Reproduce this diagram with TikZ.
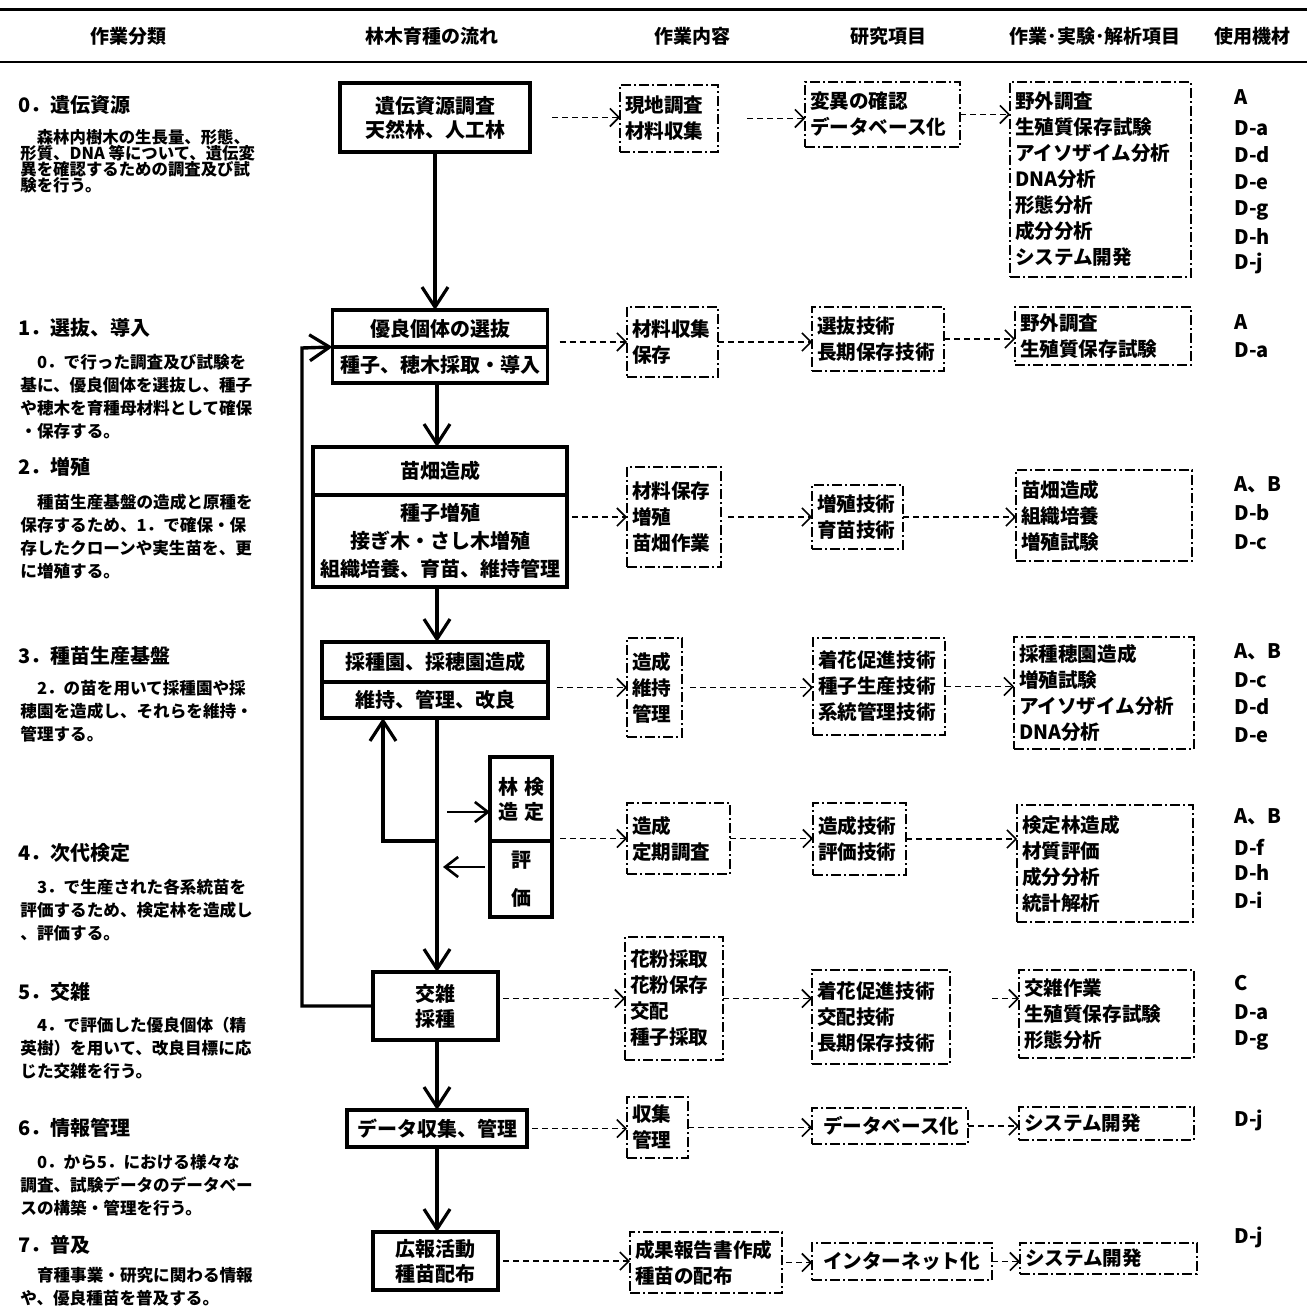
\documentclass[tikz,border=0pt]{standalone}
\usepackage{fontspec}
\setmainfont{Noto Sans CJK JP}
\usetikzlibrary{arrows.meta, positioning}

\newcommand{\fsz}[2]{\fontsize{#1}{#2}\selectfont\bfseries}

\tikzset{
  flowbox/.style={draw, line width=1.6pt, outer sep=0pt, align=center, inner sep=0pt, font=\fsz{10pt}{12pt}},
  flowline/.style={line width=1.7pt},
  flowarrow/.style={line width=1.7pt, -{Straight Barb[length=10pt,width=13pt,line width=1.6pt]}},
  sidearrow/.style={line width=1.3pt, -{Straight Barb[length=6.5pt,width=10pt,line width=1.3pt]}},
  workbox/.style={draw, line width=0.8pt, dash pattern=on 5pt off 1.5pt on 1pt off 1.5pt, outer sep=0pt,
    align=left, inner xsep=2.5pt, inner ysep=0pt, font=\fsz{9.8pt}{13pt}},
  link/.style={line width=0.6pt, dash pattern=on 3pt off 2pt, -{Straight Barb[length=4.5pt,width=9pt,line width=0.8pt]}},
  colhead/.style={font=\fsz{9.5pt}{11pt}},
  stephead/.style={anchor=west, inner sep=0pt, font=\fsz{10pt}{12pt}},
  stepdesc/.style={anchor=north west, align=left, inner sep=0pt, font=\fsz{8.3pt}{11.5pt}},
  kit/.style={anchor=west, inner sep=0pt, font=\fsz{10pt}{12pt}},
}

\begin{document}
\begin{tikzpicture}[x=0.5pt, y=-0.5pt]
\useasboundingbox (0,0) rectangle (1307,1309);

% header
\draw[line width=1.5pt] (0,10) -- (1307,10);
\draw[line width=1.2pt] (0,62) -- (1307,62);
\node[colhead] (hd1) at (128,36) {作業分類};
\node[colhead] (hd2) at (432,36) {林木育種の流れ};
\node[colhead] (hd3) at (692,36) {作業内容};
\node[colhead] (hd4) at (888,36) {研究項目};
\node[colhead] (hd5) at (1095,36) {作業･実験･解析項目};
\node[colhead] (hd6) at (1252,36) {使用機材};

% work steps
\node[stephead] (h0) at (18,105) {0．遺伝資源};
\node[stepdesc, font={\fsz{8.2pt}{8pt}\lineskiplimit=-5pt}] (d0) at (20,129)
  {　森林内樹木の生長量、形態、\\形質、DNA 等について、遺伝変\\異を確認するための調査及び試\\験を行う。};
\node[stephead] (h1) at (18,328) {1．選抜、導入};
\node[stepdesc] (d1) at (20,354)
  {　0．で行った調査及び試験を\\基に、優良個体を選抜し、種子\\や穂木を育種母材料として確保\\・保存する。};
\node[stephead] (h2) at (18,467) {2．増殖};
\node[stepdesc] (d2) at (20,494)
  {　種苗生産基盤の造成と原種を\\保存するため、1．で確保・保\\存したクローンや実生苗を、更\\に増殖する。};
\node[stephead] (h3) at (18,656) {3．種苗生産基盤};
\node[stepdesc] (d3) at (20,680)
  {　2．の苗を用いて採種園や採\\穂園を造成し、それらを維持・\\管理する。};
\node[stephead] (h4) at (18,853) {4．次代検定};
\node[stepdesc] (d4) at (20,879)
  {　3．で生産された各系統苗を\\評価するため、検定林を造成し\\、評価する。};
\node[stephead] (h5) at (18,992) {5．交雑};
\node[stepdesc] (d5) at (20,1017)
  {　4．で評価した優良個体（精\\英樹）を用いて、改良目標に応\\じた交雑を行う。};
\node[stephead] (h6) at (18,1128) {6．情報管理};
\node[stepdesc] (d6) at (20,1154)
  {　0．から5．における様々な\\調査、試験データのデータベー\\スの構築・管理を行う。};
\node[stephead] (h7) at (18,1245) {7．普及};
\node[stepdesc] (d7) at (20,1267)
  {　育種事業・研究に関わる情報\\や、優良種苗を普及する。};

% breeding flow
\node[flowbox, minimum width=95pt, minimum height=34.5pt] (gen) at (435,117.5) {遺伝資源調査\\天然林、人工林};
\node[flowbox, minimum width=107.5pt, minimum height=18.5pt] (sel) at (440,328.5) {優良個体の選抜};
\node[flowbox, minimum width=107.5pt, minimum height=18pt, below=0pt of sel] (selb) {種子、穂木採取・導入};
\node[flowbox, minimum width=127pt, minimum height=24pt] (nur) at (440,471) {苗畑造成};
\node[flowbox, minimum width=127pt, minimum height=46pt, font=\fsz{10pt}{14pt}, below=0pt of nur] (nurb)
  {種子増殖\\接ぎ木・さし木増殖\\組織培養、育苗、維持管理};
\node[flowbox, minimum width=113pt, minimum height=20pt] (orch) at (435,662) {採種園、採穂園造成};
\node[flowbox, minimum width=113pt, minimum height=18pt, below=0pt of orch] (orchb) {維持、管理、改良};
\node[flowbox, minimum width=31pt, minimum height=42pt, font=\fsz{10pt}{12.5pt}] (test) at (521,799)
  {林\hspace{3pt}検\\造\hspace{3pt}定};
\node[flowbox, minimum width=31pt, minimum height=38pt, font=\fsz{10pt}{19pt}, below=0pt of test] (testb) {評\\価};
\node[flowbox, minimum width=62.5pt, minimum height=34pt, font=\fsz{10pt}{12.5pt}] (cross) at (435.5,1006) {交雑\\採種};
\node[flowbox, minimum width=90pt, minimum height=18.5pt] (data) at (437,1128.5) {データ収集、管理};
\node[flowbox, minimum width=62.5pt, minimum height=29pt, font=\fsz{10pt}{12.5pt}] (pr) at (435.5,1261) {広報活動\\種苗配布};

\coordinate (jn) at (437,841);
\coordinate (lp) at (383,841);
\coordinate (fb) at (302,348);
\coordinate (tin) at (447,812);
\coordinate (tout) at (443,867);

\draw[flowarrow] (gen.south) -- (gen.south |- sel.north);
\draw[flowarrow] (selb.south -| jn) -- (nur.north -| jn);
\draw[flowarrow] (nurb.south -| jn) -- (orch.north -| jn);
\draw[flowarrow] (orchb.south -| jn) -- (cross.north -| jn);
\draw[flowarrow] (jn) -- (lp) -- (lp |- orchb.south);
\draw[sidearrow] (tin) -- (tin -| test.west);
\draw[sidearrow, shorten <=2.5pt] (tout -| testb.west) -- (tout);
\draw[flowarrow] (cross.west) -| (fb) -- (sel.south west);
\draw[flowarrow] (cross.south -| jn) -- (data.north -| jn);
\draw[flowarrow] (data.south -| jn) -- (pr.north -| jn);

% work contents
\node[workbox, minimum width=49pt, minimum height=33.5pt, text width=44pt] (wk0) at (669,118.5) {現地調査\\材料収集};
\node[workbox, minimum width=45.5pt, minimum height=35pt, text width=40.5pt] (wk1) at (672.5,342) {材料収集\\保存};
\node[workbox, minimum width=47pt, minimum height=50pt, text width=42pt] (wk2) at (674,517) {材料保存\\増殖\\苗畑作業};
\node[workbox, minimum width=27.5pt, minimum height=49.5pt, text width=22.5pt] (wk3) at (654.5,687.5) {造成\\維持\\管理};
\node[workbox, minimum width=51.5pt, minimum height=35.5pt, text width=46.5pt] (wk4) at (678.5,838.5) {造成\\定期調査};
\node[workbox, minimum width=49pt, minimum height=61.5pt, text width=44pt] (wk5) at (674,998.5) {花粉採取\\花粉保存\\交配\\種子採取};
\node[workbox, minimum width=30.5pt, minimum height=30.5pt, text width=25.5pt] (wk6) at (657.5,1127.5) {収集\\管理};
\node[workbox, minimum width=76pt, minimum height=30.5pt, text width=71pt] (wk7) at (706,1262.5) {成果報告書作成\\種苗の配布};

% research items
\node[workbox, minimum width=77.5pt, minimum height=32.5pt, text width=72.5pt] (rs0) at (882.5,114.5) {変異の確認\\データベース化};
\node[workbox, minimum width=66pt, minimum height=32pt, text width=61pt] (rs1) at (878,339) {選抜技術\\長期保存技術};
\node[workbox, minimum width=45.5pt, minimum height=32pt, text width=40.5pt] (rs2) at (857.5,517) {増殖技術\\育苗技術};
\node[workbox, minimum width=66pt, minimum height=48.5pt, text width=61pt] (rs3) at (879,686.5) {着花促進技術\\種子生産技術\\系統管理技術};
\node[workbox, minimum width=46.5pt, minimum height=36pt, text width=41.5pt] (rs4) at (859.5,839) {造成技術\\評価技術};
\node[workbox, minimum width=69pt, minimum height=47pt, text width=64pt] (rs5) at (881,1017) {着花促進技術\\交配技術\\長期保存技術};
\node[workbox, minimum width=78pt, minimum height=18pt, text width=73pt] (rs6) at (890,1126) {\hspace{3pt}データベース化};
\node[workbox, minimum width=90pt, minimum height=18.5pt, text width=85pt] (rs7) at (902,1261.5) {\hspace{3pt}インターネット化};

% works, experiments, analyses
\node[workbox, minimum width=90.5pt, minimum height=97.5pt, text width=85.5pt] (ex0) at (1100.5,179.5)
  {野外調査\\生殖質保存試験\\アイソザイム分析\\DNA分析\\形態分析\\成分分析\\システム開発};
\node[workbox, minimum width=88pt, minimum height=29pt, text width=83pt] (ex1) at (1103,336) {野外調査\\生殖質保存試験};
\node[workbox, minimum width=88pt, minimum height=45.5pt, text width=83pt] (ex2) at (1104,515.5) {苗畑造成\\組織培養\\増殖試験};
\node[workbox, minimum width=90pt, minimum height=56pt, text width=85pt] (ex3) at (1104,693)
  {採種穂園造成\\増殖試験\\アイソザイム分析\\DNA分析};
\node[workbox, minimum width=88pt, minimum height=58.5pt, text width=83pt] (ex4) at (1105,863.5)
  {検定林造成\\材質評価\\成分分析\\統計解析};
\node[workbox, minimum width=87.5pt, minimum height=44pt, text width=82.5pt] (ex5) at (1106.5,1014) {交雑作業\\生殖質保存試験\\形態分析};
\node[workbox, minimum width=87.5pt, minimum height=16.5pt, text width=82.5pt] (ex6) at (1106.5,1123.5) {システム開発};
\node[workbox, minimum width=88.5pt, minimum height=15.5pt, text width=83.5pt] (ex7) at (1108.5,1258.5) {システム開発};

% equipment
\foreach \nm/\lab/\yy in {k00/A/97, k01/D-a/128, k02/D-d/155, k03/D-e/182, k04/D-g/210, k05/D-h/237, k06/D-j/263,
    k10/A/322, k11/D-a/350,
    k20/A、B/485, k21/D-b/513, k22/D-c/542,
    k30/A、B/652, k31/D-c/680, k32/D-d/707, k33/D-e/735,
    k40/A、B/817, k41/D-f/847, k42/D-h/873, k43/D-i/900,
    k50/C/983, k51/D-a/1012, k52/D-g/1040,
    k60/D-j/1120, k70/D-j/1237}
  \node[kit] (\nm) at (1234,\yy) {\lab};

% links
\draw[link, shorten <=11pt] (gen.east) -- (gen.east -| wk0.west);
\draw[link, shorten <=14.5pt] (wk0.east) -- (wk0.east -| rs0.west);
\draw[link] (rs0.east) -- (rs0.east -| ex0.west);

\draw[link, shorten <=6pt] (wk1.west -| selb.east) -- (wk1.west);
\draw[link] (wk1.east) -- (wk1.east -| rs1.west);
\draw[link] (rs1.east) -- (rs1.east -| ex1.west);

\draw[link, shorten <=2.5pt] (wk2.west -| nurb.east) -- (wk2.west);
\draw[link, shorten <=3.5pt] (wk2.east) -- (wk2.east -| rs2.west);
\draw[link] (rs2.east) -- (rs2.east -| ex2.west);

\draw[link, shorten <=4.5pt] (wk3.west -| orchb.east) -- (wk3.west);
\draw[link, shorten <=4pt] (wk3.east) -- (wk3.east -| rs3.west);
\draw[link] (rs3.east) -- (rs3.east -| ex3.west);

\draw[link, shorten <=4pt] (wk4.west -| testb.east) -- (wk4.west);
\draw[link] (wk4.east) -- (wk4.east -| rs4.west);
\draw[link] (rs4.east) -- (rs4.east -| ex4.west);

\draw[link, shorten <=2.5pt] (wk5.west -| cross.east) -- (wk5.west);
\draw[link] (wk5.east) -- (wk5.east -| rs5.west);
\draw[link, shorten <=21pt] (rs5.east |- wk5.east) -- (wk5.east -| ex5.west);

\draw[link, shorten <=2.5pt] (data.east) -- (data.east -| wk6.west);
\draw[link] (wk6.east) -- (wk6.east -| rs6.west);
\draw[link] (rs6.east) -- (rs6.east -| ex6.west);

\draw[link, shorten <=2.5pt] (pr.east) -- (pr.east -| wk7.west);
\draw[link, shorten <=2pt] (wk7.east) -- (wk7.east -| rs7.west);
\draw[link] (rs7.east) -- (rs7.east -| ex7.west);

\end{tikzpicture}
\end{document}
